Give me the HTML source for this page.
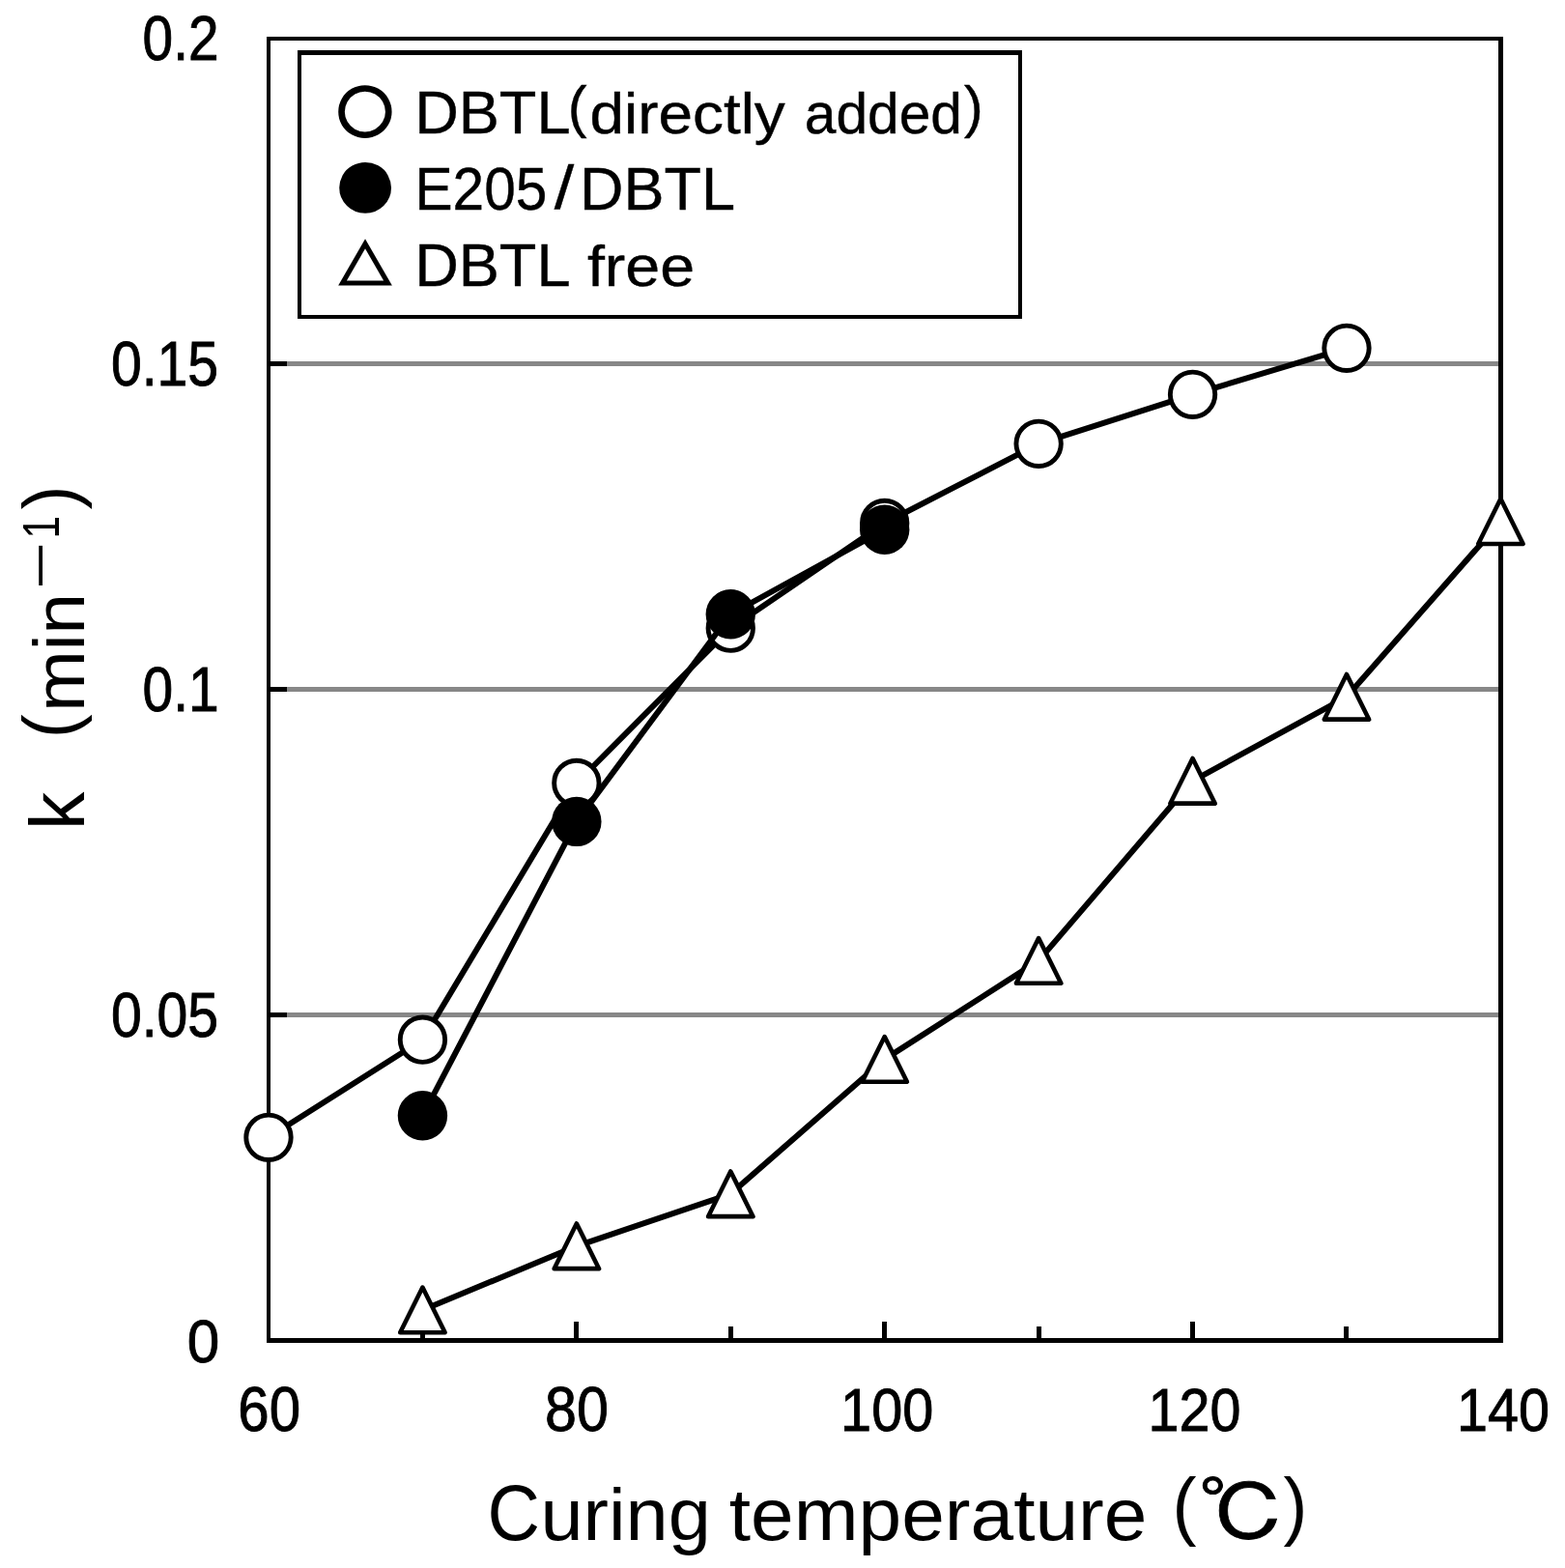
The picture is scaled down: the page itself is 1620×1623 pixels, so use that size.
<!DOCTYPE html>
<html lang="en"><head><meta charset="utf-8"><title>Rate constant k versus curing temperature</title>
<style>html,body{margin:0;padding:0;background:#fff}body{width:1620px;height:1623px;overflow:hidden}svg{display:block}text{font-family:"Liberation Sans", "Noto Sans CJK JP", sans-serif;fill:#000;white-space:pre}</style></head>
<body>
<svg width="1620" height="1623" viewBox="0 0 1620 1623">
<rect width="1620" height="1623" fill="#fff"/>
<g id="grid">
<rect x="280" y="374" width="1271" height="5" fill="#878787"/>
<rect x="280" y="711" width="1271" height="5" fill="#878787"/>
<rect x="280" y="1048" width="1271" height="5" fill="#878787"/>
</g>
<g id="axes">
<rect x="276" y="38" width="4" height="1352" fill="#000"/>
<rect x="1551" y="38" width="5" height="1352" fill="#000"/>
<rect x="276" y="38" width="1280" height="4" fill="#000"/>
<rect x="276" y="1385" width="1280" height="5" fill="#000"/>
<rect x="280" y="374" width="17" height="5" fill="#000"/>
<rect x="280" y="711" width="17" height="5" fill="#000"/>
<rect x="280" y="1048" width="17" height="5" fill="#000"/>
<rect x="435" y="1373" width="5" height="13" fill="#000"/>
<rect x="594" y="1368" width="5" height="18" fill="#000"/>
<rect x="754" y="1373" width="5" height="13" fill="#000"/>
<rect x="913" y="1368" width="5" height="18" fill="#000"/>
<rect x="1073" y="1373" width="5" height="13" fill="#000"/>
<rect x="1232" y="1368" width="5" height="18" fill="#000"/>
<rect x="1391" y="1373" width="5" height="13" fill="#000"/>
</g>
<g id="series-dbtl-direct">
<polyline points="278,1177.3 437.43,1076.2 596.85,810.5 756.27,650.2 915.7,541.5 1075.12,459.3 1234.55,408.3 1393.97,360.3" fill="none" stroke="#000" stroke-width="6" stroke-linejoin="round"/>
<circle cx="278" cy="1177.3" r="23.2" fill="#fff" stroke="#000" stroke-width="4.9"/>
<circle cx="437.43" cy="1076.2" r="23.2" fill="#fff" stroke="#000" stroke-width="4.9"/>
<circle cx="596.85" cy="810.5" r="23.2" fill="#fff" stroke="#000" stroke-width="4.9"/>
<circle cx="756.27" cy="650.2" r="23.2" fill="#fff" stroke="#000" stroke-width="4.9"/>
<circle cx="915.7" cy="541.5" r="23.2" fill="#fff" stroke="#000" stroke-width="4.9"/>
<circle cx="1075.12" cy="459.3" r="23.2" fill="#fff" stroke="#000" stroke-width="4.9"/>
<circle cx="1234.55" cy="408.3" r="23.2" fill="#fff" stroke="#000" stroke-width="4.9"/>
<circle cx="1393.97" cy="360.3" r="23.2" fill="#fff" stroke="#000" stroke-width="4.9"/>
</g>
<g id="series-e205-dbtl">
<polyline points="437.43,1154.8 596.85,850.4 756.27,635.8 915.7,548.2" fill="none" stroke="#000" stroke-width="6" stroke-linejoin="round"/>
<circle cx="437.43" cy="1154.8" r="25.7" fill="#000"/>
<circle cx="596.85" cy="850.4" r="25.7" fill="#000"/>
<circle cx="756.27" cy="635.8" r="25.7" fill="#000"/>
<circle cx="915.7" cy="548.2" r="25.7" fill="#000"/>
</g>
<g id="series-dbtl-free">
<polyline points="437.43,1355.9 596.85,1289.8 756.27,1235.8 915.7,1096.4 1075.12,994.4 1234.55,808.3 1393.97,721.3 1553.4,539.7" fill="none" stroke="#000" stroke-width="6" stroke-linejoin="round"/>
<polygon points="437.43,1332.55 460.62,1379.25 414.23,1379.25" fill="#fff" stroke="#000" stroke-width="4.6" stroke-linejoin="round"/>
<polygon points="596.85,1266.45 620.05,1313.15 573.65,1313.15" fill="#fff" stroke="#000" stroke-width="4.6" stroke-linejoin="round"/>
<polygon points="756.27,1212.45 779.48,1259.15 733.07,1259.15" fill="#fff" stroke="#000" stroke-width="4.6" stroke-linejoin="round"/>
<polygon points="915.7,1073.05 938.9,1119.75 892.5,1119.75" fill="#fff" stroke="#000" stroke-width="4.6" stroke-linejoin="round"/>
<polygon points="1075.12,971.05 1098.33,1017.75 1051.92,1017.75" fill="#fff" stroke="#000" stroke-width="4.6" stroke-linejoin="round"/>
<polygon points="1234.55,784.95 1257.75,831.65 1211.35,831.65" fill="#fff" stroke="#000" stroke-width="4.6" stroke-linejoin="round"/>
<polygon points="1393.97,697.95 1417.17,744.65 1370.77,744.65" fill="#fff" stroke="#000" stroke-width="4.6" stroke-linejoin="round"/>
<polygon points="1553.4,516.35 1576.6,563.05 1530.2,563.05" fill="#fff" stroke="#000" stroke-width="4.6" stroke-linejoin="round"/>
</g>
<g id="legend-box">
<rect x="308" y="52" width="750" height="278" fill="#000"/>
<rect x="312" y="57" width="742" height="269" fill="#fff"/>
</g>
<g id="labels">
<text transform="matrix(0.8866 0 0 1.0065 0 61.9935)" font-size="64" stroke="#000" stroke-width="0.9"><tspan x="166.5" y="0">0.2</tspan></text>
<text transform="matrix(0.8931 0 0 1.0065 0 398.9935)" font-size="64" stroke="#000" stroke-width="0.9"><tspan x="128.66" y="0">0.15</tspan></text>
<text transform="matrix(0.889 0 0 1.0065 0 735.8935)" font-size="64" stroke="#000" stroke-width="0.9"><tspan x="166.05" y="0">0.1</tspan></text>
<text transform="matrix(0.8931 0 0 1.0065 0 1072.7935)" font-size="64" stroke="#000" stroke-width="0.9"><tspan x="128.66" y="0">0.05</tspan></text>
<text transform="matrix(0.9397 0 0 0.9804 0 1410.1196)" font-size="64" stroke="#000" stroke-width="0.9"><tspan x="206.26" y="0">0</tspan></text>
<text transform="matrix(0.9098 0 0 1.0043 0 1480.9957)" font-size="64" stroke="#000" stroke-width="0.9"><tspan x="270.72" y="0">60</tspan></text>
<text transform="matrix(0.9254 0 0 1 0 1481)" font-size="64" stroke="#000" stroke-width="0.9"><tspan x="609.5" y="0">80</tspan></text>
<text transform="matrix(0.9007 0 0 0.9913 0 1480.6087)" font-size="64" stroke="#000" stroke-width="0.9"><tspan x="966.03" y="0">100</tspan></text>
<text transform="matrix(0.8978 0 0 0.9913 0 1480.6087)" font-size="64" stroke="#000" stroke-width="0.9"><tspan x="1323.81" y="0">120</tspan></text>
<text transform="matrix(0.8978 0 0 0.9957 0 1480.6043)" font-size="64" stroke="#000" stroke-width="0.9"><tspan x="1679.7" y="0">140</tspan></text>
<text transform="matrix(1.0183 0 0 1.0101 0 151.6387)" font-size="120" stroke="#000" stroke-width="1.5"><tspan x="334.89" y="0">○</tspan></text>
<text transform="matrix(1 0 0 0.9888 0 137.8528)" font-size="64" stroke="#000" stroke-width="0.4"><tspan x="429.17" y="0" textLength="161.35" lengthAdjust="spacingAndGlyphs">DBTL</tspan><tspan x="587.64" y="-6.78" font-size="60" textLength="19.74" lengthAdjust="spacingAndGlyphs">(</tspan><tspan x="610.61" y="0" font-size="60" textLength="219.91" lengthAdjust="spacingAndGlyphs">directly </tspan><tspan x="832.8" y="0" font-size="60" textLength="163.13" lengthAdjust="spacingAndGlyphs">added</tspan><tspan x="998" y="-6.78" font-size="60" textLength="19.74" lengthAdjust="spacingAndGlyphs">)</tspan></text>
<text transform="matrix(1.0427 0 0 1.0252 0 229.1019)" font-size="120"><tspan x="326.22" y="0">●</tspan></text>
<text transform="matrix(1 0 0 0.9865 0 216.6534)" font-size="64" stroke="#000" stroke-width="0.4"><tspan x="429.52" y="0" textLength="136.84" lengthAdjust="spacingAndGlyphs">E205</tspan><tspan x="573.79" y="-1.01" textLength="20.45" lengthAdjust="spacingAndGlyphs">/</tspan><tspan x="600.08" y="0" textLength="161.04" lengthAdjust="spacingAndGlyphs">DBTL</tspan></text>
<text transform="matrix(0.924 0 0 0.9019 0 294.0981)" font-size="58" stroke="#000" stroke-width="3.4"><tspan x="380.27" y="0">△</tspan></text>
<text transform="matrix(1 0 0 0.9865 0 295.6534)" font-size="64" stroke="#000" stroke-width="0.4"><tspan x="429.17" y="0" textLength="176.54" lengthAdjust="spacingAndGlyphs">DBTL </tspan><tspan x="607.89" y="0" font-size="60" textLength="111.18" lengthAdjust="spacingAndGlyphs">free</tspan></text>
<text transform="matrix(1 0 0 0.9948 0 1593.8539)" font-size="82"><tspan x="504.59" y="0" textLength="54.47" lengthAdjust="spacingAndGlyphs">C</tspan><tspan x="559.45" y="0" font-size="77" textLength="198.42" lengthAdjust="spacingAndGlyphs">uring </tspan><tspan x="754.8" y="0" font-size="77" textLength="454.94" lengthAdjust="spacingAndGlyphs">temperature </tspan><tspan x="1213.52" y="-8.64" font-size="78" textLength="25.05" lengthAdjust="spacingAndGlyphs">(</tspan><tspan x="1240.44" y="2.01" style='font-family:"Liberation Sans", "IPAGothic", sans-serif' stroke="#000" stroke-width="0.8" textLength="90.88" lengthAdjust="spacingAndGlyphs">℃</tspan><tspan x="1328.42" y="-8.64" font-size="78" textLength="24.79" lengthAdjust="spacingAndGlyphs">)</tspan></text>
<text transform="matrix(0 -1 0.9862 0 87.1 0)" font-size="80"><tspan x="-859.1" y="0" textLength="61.15" lengthAdjust="spacingAndGlyphs">k </tspan><tspan x="-764.38" y="-8.52" font-size="78" textLength="25.05" lengthAdjust="spacingAndGlyphs">(</tspan><tspan x="-736.78" y="0" font-size="75" textLength="122.71" lengthAdjust="spacingAndGlyphs">min</tspan><tspan x="-613.65" y="-24.64" font-size="56" textLength="56.69" lengthAdjust="spacingAndGlyphs">－</tspan><tspan x="-557.62" y="-26.47" font-size="54" textLength="23.44" lengthAdjust="spacingAndGlyphs">1</tspan><tspan x="-527.48" y="-8.52" font-size="78" textLength="25.05" lengthAdjust="spacingAndGlyphs">)</tspan></text>
</g>
</svg>
</body></html>
